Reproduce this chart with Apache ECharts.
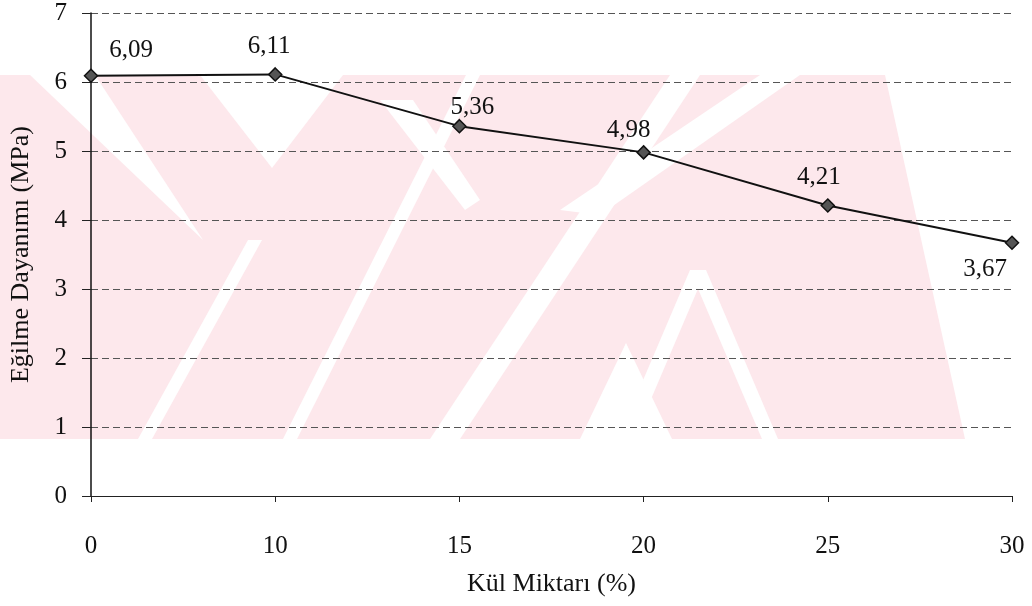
<!DOCTYPE html>
<html>
<head>
<meta charset="utf-8">
<script src="https://cdn.jsdelivr.net/npm/echarts@6/dist/echarts.min.js"></script>
<style>
  html, body { margin: 0; padding: 0; background: #ffffff; }
  #chart { width: 1032px; height: 606px; }
</style>
</head>
<body>
<div id="chart"></div>
<script>
// Flexural strength vs ash content
const categories = ['0', '10', '15', '20', '25', '30'];
const strength = [6.09, 6.11, 5.36, 4.98, 4.21, 3.67];
const valueLabels = ['6,09', '6,11', '5,36', '4,98', '4,21', '3,67'];
// label offsets (px) relative to each marker
const labelOffsets = [[40, -25], [-6, -28], [13, -19], [-15, -22], [-9, -28], [-27, 27]];

const FONT = 'Liberation Serif';
const PINK = '#fde8ec';

const chart = echarts.init(document.getElementById('chart'), null, { renderer: 'canvas' });

// faint diagonal background emblem
const bg = [
  { type: 'polygon', shape: { points: [[0, 75], [885, 75], [965, 439], [0, 439]] }, style: { fill: PINK } },
  // white gaps between the stripes
  { type: 'polygon', shape: { points: [[30, 75], [95, 75], [203, 240]] }, style: { fill: '#fff' } },
  { type: 'polygon', shape: { points: [[200, 75], [343, 75], [272, 168]] }, style: { fill: '#fff' } },
  { type: 'polygon', shape: { points: [[138, 439], [152, 439], [262, 240], [248, 240]] }, style: { fill: '#fff' } },
  { type: 'polygon', shape: { points: [[283, 439], [297, 439], [480, 75], [466, 75]] }, style: { fill: '#fff' } },
  { type: 'polygon', shape: { points: [[430, 439], [460, 439], [700, 75], [670, 75]] }, style: { fill: '#fff' } },
  { type: 'polygon', shape: { points: [[380, 100], [413, 100], [480, 200], [465, 210]] }, style: { fill: '#fff' } },
  { type: 'polygon', shape: { points: [[690, 270], [706, 270], [778, 439], [762, 439]] }, style: { fill: '#fff' } },
  { type: 'polygon', shape: { points: [[690, 270], [706, 270], [634, 439], [618, 439]] }, style: { fill: '#fff' } },
  { type: 'polygon', shape: { points: [[626, 343], [580, 439], [672, 439]] }, style: { fill: '#fff' } },
  { type: 'polygon', shape: { points: [[560, 210], [760, 75], [800, 75], [600, 215]] }, style: { fill: '#fff' } }
].map(function (g) { g.z = -10; g.silent = true; return g; });

const option = {
  backgroundColor: '#ffffff',
  animation: false,
  graphic: { elements: bg },
  grid: { left: 91, right: 20, top: 13, bottom: 110, containLabel: false },
  xAxis: {
    type: 'category',
    data: categories,
    boundaryGap: false,
    name: 'Kül Miktarı (%)',
    nameLocation: 'middle',
    nameGap: 75,
    nameTextStyle: { fontFamily: FONT, fontSize: 26, color: '#111' },
    axisLine: { show: true, lineStyle: { color: '#222', width: 1.2 } },
    axisTick: { show: true, alignWithLabel: true, length: 6, lineStyle: { color: '#222' } },
    axisLabel: { fontFamily: FONT, fontSize: 25, color: '#111', margin: 38 },
    splitLine: { show: false }
  },
  yAxis: {
    type: 'value',
    min: 0,
    max: 7,
    interval: 1,
    name: 'Eğilme Dayanımı (MPa)',
    nameLocation: 'middle',
    nameGap: 57,
    nameTextStyle: { fontFamily: FONT, fontSize: 26, color: '#111' },
    axisLine: { show: true, lineStyle: { color: '#111', width: 1.5 } },
    axisTick: { show: true, length: 9, lineStyle: { color: '#222' } },
    axisLabel: { fontFamily: FONT, fontSize: 25, color: '#111', margin: 24 },
    splitLine: { show: true, lineStyle: { color: '#555', width: 1, type: [7, 4] } }
  },
  series: [{
    type: 'line',
    data: strength.map(function (v, i) {
      return {
        value: v,
        label: {
          show: true,
          position: 'inside',
          offset: labelOffsets[i],
          formatter: valueLabels[i]
        }
      };
    }),
    symbol: 'diamond',
    symbolSize: 13,
    lineStyle: { color: '#111', width: 2 },
    itemStyle: { color: '#555', borderColor: '#111', borderWidth: 1.5 },
    label: { fontFamily: FONT, fontSize: 25, color: '#111' },
    z: 3
  }]
};

chart.setOption(option);
</script>
</body>
</html>
